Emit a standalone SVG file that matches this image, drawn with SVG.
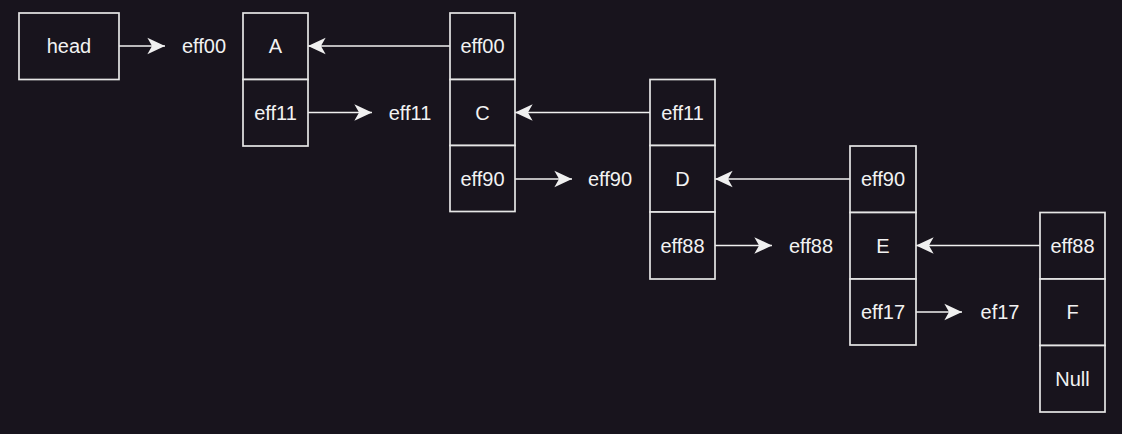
<svg xmlns="http://www.w3.org/2000/svg" width="1122" height="434" viewBox="0 0 1122 434">
<style>
.bg{fill:#18141d}
.cell{fill:#18141d;stroke:#e6e6e6;stroke-width:1.7}
.t{font-family:"Liberation Sans",Arial,sans-serif;font-size:20px;fill:#f2f2f2;text-anchor:middle}
.c{stroke:#f0f0f0;stroke-width:1.7;fill:none;marker-end:url(#ah)}
</style>
<defs>
<marker id="ah" markerUnits="userSpaceOnUse" markerWidth="20" markerHeight="20" viewBox="-16 -8 17 16" refX="0" refY="0" orient="auto">
<path d="M0,0 L-15,-7 L-11,0 L-15,7 Z" fill="#f0f0f0"/>
</marker>
</defs>
<rect class="bg" x="0" y="0" width="1122" height="434"/>
<g id="connectors">
<line class="c" x1="119" y1="46" x2="165" y2="46"/>
<line class="c" x1="450" y1="46" x2="308" y2="46"/>
<line class="c" x1="308" y1="112.5" x2="372" y2="112.5"/>
<line class="c" x1="650" y1="112.5" x2="515" y2="112.5"/>
<line class="c" x1="515" y1="179" x2="572" y2="179"/>
<line class="c" x1="850" y1="179" x2="715" y2="179"/>
<line class="c" x1="715" y1="245.5" x2="772" y2="245.5"/>
<line class="c" x1="1040" y1="245.5" x2="916" y2="245.5"/>
<line class="c" x1="916" y1="312" x2="962" y2="312"/>
</g>
<g id="head">
<rect class="cell" x="19" y="13" width="100" height="66.5"/>
<text class="t" x="69" y="53">head</text>
</g>
<g id="label-eff00"><text class="t" x="204" y="53">eff00</text></g>
<g id="label-eff11"><text class="t" x="410" y="119.5">eff11</text></g>
<g id="label-eff90"><text class="t" x="610" y="186">eff90</text></g>
<g id="label-eff88"><text class="t" x="811" y="252.5">eff88</text></g>
<g id="label-ef17"><text class="t" x="1000" y="319">ef17</text></g>
<g id="nodeA">
<rect class="cell" x="243" y="13" width="65" height="66.5"/>
<rect class="cell" x="243" y="79.5" width="65" height="66.5"/>
<text class="t" x="275.5" y="53">A</text>
<text class="t" x="275.5" y="119.5">eff11</text>
</g>
<g id="nodeC">
<rect class="cell" x="450" y="13" width="65" height="66.5"/>
<rect class="cell" x="450" y="79.5" width="65" height="66"/>
<rect class="cell" x="450" y="145.5" width="65" height="66"/>
<text class="t" x="482.5" y="53">eff00</text>
<text class="t" x="482.5" y="119.5">C</text>
<text class="t" x="482.5" y="186">eff90</text>
</g>
<g id="nodeD">
<rect class="cell" x="650" y="79.5" width="65" height="66"/>
<rect class="cell" x="650" y="145.5" width="65" height="66.5"/>
<rect class="cell" x="650" y="212" width="65" height="67"/>
<text class="t" x="682.5" y="119.5">eff11</text>
<text class="t" x="682.5" y="186">D</text>
<text class="t" x="682.5" y="252.5">eff88</text>
</g>
<g id="nodeE">
<rect class="cell" x="850" y="146" width="66" height="66.5"/>
<rect class="cell" x="850" y="212.5" width="66" height="66.5"/>
<rect class="cell" x="850" y="279" width="66" height="66"/>
<text class="t" x="883" y="186">eff90</text>
<text class="t" x="883" y="252.5">E</text>
<text class="t" x="883" y="319">eff17</text>
</g>
<g id="nodeF">
<rect class="cell" x="1040" y="212.5" width="65" height="66.5"/>
<rect class="cell" x="1040" y="279" width="65" height="66.5"/>
<rect class="cell" x="1040" y="345.5" width="65" height="66.5"/>
<text class="t" x="1072.5" y="252.5">eff88</text>
<text class="t" x="1072.5" y="319">F</text>
<text class="t" x="1072.5" y="385.5">Null</text>
</g>
</svg>
